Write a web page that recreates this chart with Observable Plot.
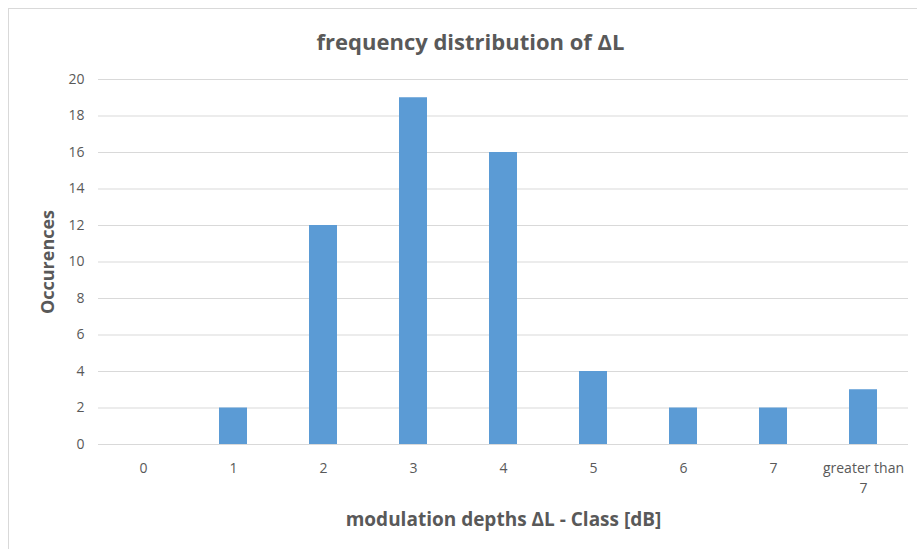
<!DOCTYPE html>
<html>
<head>
<meta charset="utf-8">
<script src="https://cdn.jsdelivr.net/npm/d3@7"></script>
<script src="https://cdn.jsdelivr.net/npm/@observablehq/plot@0.6"></script>
<style>
  html, body { margin: 0; padding: 0; background: #fff; }
  #wrap { position: relative; width: 917px; height: 549px; overflow: hidden; }
  #frame { position: absolute; left: 8px; top: 8px; width: 940px; height: 580px; border: 1.5px solid #d9d9d9; box-sizing: border-box; }
  #chart { position: absolute; left: 0; top: 0; }
</style>
</head>
<body>
<div id="wrap"><div id="frame"></div><div id="chart"></div></div>
<script>
const categories = ["0", "1", "2", "3", "4", "5", "6", "7", "greater than 7"];
const occurrences = [0, 2, 12, 19, 16, 4, 2, 2, 3];
const yTicks = [0, 2, 4, 6, 8, 10, 12, 14, 16, 18, 20];
const titleText = "frequency distribution of ΔL";
const xLabel = "modulation depths ΔL - Class [dB]";
const yLabel = "Occurences";

const data = categories.map((c, i) => ({ category: c, value: occurrences[i] }));
const font = "'Open Sans', sans-serif";

const chart = Plot.plot({
  width: 917,
  height: 549,
  marginTop: 79,
  marginBottom: 105,
  marginLeft: 98,
  marginRight: 9,
  style: { fontFamily: font, background: "transparent", overflow: "visible" },
  x: { domain: categories, paddingInner: 0.69, paddingOuter: 0.345, label: null },
  y: { domain: [0, 20], label: null },
  marks: [
    Plot.gridY(yTicks, { stroke: "#d9d9d9", strokeOpacity: 1, strokeWidth: 1 }),
    Plot.barY(data, { x: "category", y: "value", fill: "#5b9bd5" }),
    Plot.axisY(yTicks, { tickSize: 0, tickPadding: 14, fontSize: 14, fill: "#595959", label: null }),
    Plot.axisX({ tickSize: 0, tickPadding: 14, fontSize: 14, fill: "#595959", label: null, lineHeight: 1.45,
      tickFormat: d => d === "greater than 7" ? "greater than\n7" : d }),
    Plot.text([titleText], { frameAnchor: "top", lineAnchor: "middle", dx: -33, dy: -37, fontSize: 22, fontWeight: "bold", fill: "#595959" }),
    Plot.text([yLabel], { frameAnchor: "left", textAnchor: "middle", lineAnchor: "middle", dx: -50, rotate: -90, fontSize: 18, fontWeight: "bold", fill: "#595959" }),
    Plot.text([xLabel], { frameAnchor: "bottom", lineAnchor: "middle", dy: 75, fontSize: 19, fontWeight: "bold", fill: "#595959" })
  ]
});
document.getElementById("chart").appendChild(chart);
</script>
</body>
</html>
